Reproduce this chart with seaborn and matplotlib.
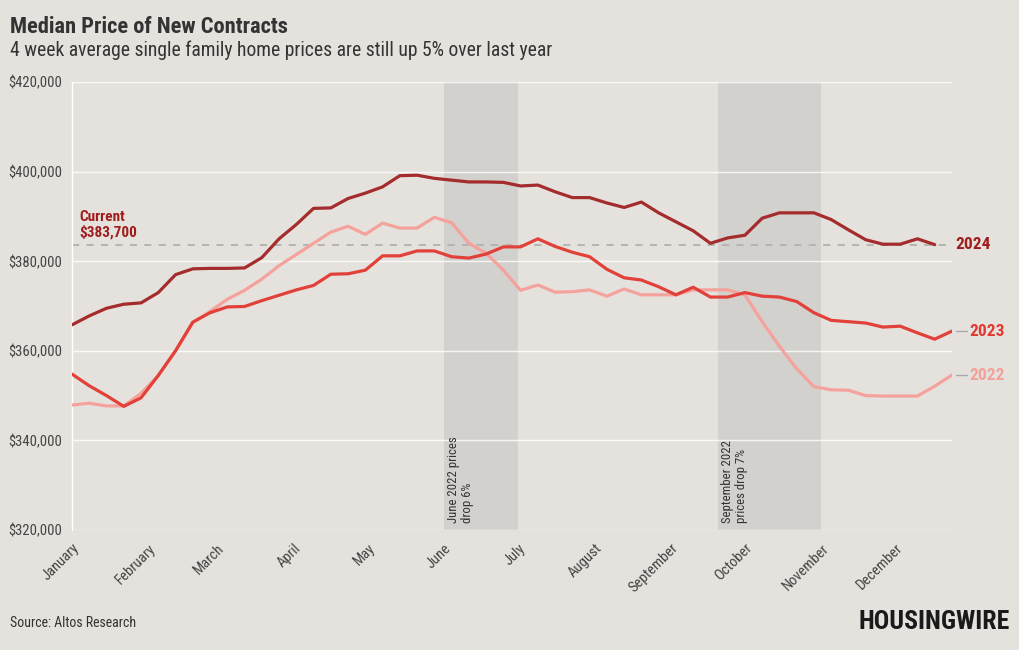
import numpy as np
import pandas as pd
import matplotlib
matplotlib.use("Agg")
import matplotlib.pyplot as plt
import matplotlib.ticker as mticker
import seaborn as sns

# ---- data (weekly, $ thousands) ----
weeks_2022_2023 = pd.date_range("2023-01-01", periods=52, freq="7D")
weeks_2024 = weeks_2022_2023[:51]

price_2024 = [365.8, 367.8, 369.5, 370.4, 370.7, 373.0, 377.0, 378.3, 378.4, 378.4,
              378.5, 380.8, 385.0, 388.2, 391.8, 391.9, 394.0, 395.2, 396.6, 399.1,
              399.2, 398.5, 398.1, 397.7, 397.7, 397.6, 396.8, 397.0, 395.5, 394.2,
              394.2, 393.0, 392.0, 393.2, 390.8, 388.8, 386.8, 384.0, 385.2, 385.8,
              389.6, 390.8, 390.8, 390.8, 389.3, 387.0, 384.8, 383.8, 383.8, 385.0,
              383.7]
price_2023 = [354.8, 352.2, 350.0, 347.6, 349.5, 354.5, 360.0, 366.4, 368.5, 369.8,
              369.9, 371.2, 372.4, 373.6, 374.6, 377.1, 377.2, 378.0, 381.2, 381.2,
              382.3, 382.3, 381.0, 380.7, 381.6, 383.2, 383.2, 385.0, 383.3, 382.0,
              381.0, 378.2, 376.3, 375.8, 374.3, 372.5, 374.2, 372.0, 372.0, 373.0,
              372.2, 372.0, 371.0, 368.5, 366.8, 366.5, 366.2, 365.3, 365.5, 364.0,
              362.6, 364.4]
price_2022 = [347.9, 348.3, 347.7, 347.7, 350.5, 354.5, 360.0, 366.3, 368.8, 371.5,
              373.5, 376.0, 379.0, 381.5, 384.0, 386.5, 387.8, 386.0, 388.5, 387.4,
              387.4, 389.8, 388.6, 384.0, 381.8, 378.0, 373.5, 374.7, 373.1, 373.2,
              373.6, 372.2, 373.8, 372.5, 372.5, 372.5, 373.6, 373.6, 373.6, 372.5,
              366.5, 361.0, 356.0, 352.0, 351.3, 351.2, 350.0, 349.9, 349.9, 349.9,
              352.1, 354.6]

current_value = 383700
y_ticks = [320000, 340000, 360000, 380000, 400000, 420000]
month_labels = ["January", "February", "March", "April", "May", "June", "July",
                "August", "September", "October", "November", "December"]
bands = [("2023-06-01", "2023-07-01", "June 2022 prices\ndrop 6%"),
         ("2023-09-20", "2023-11-01", "September 2022\nprices drop 7%")]

colors = {"2024": "#a52c2c", "2023": "#e2413a", "2022": "#f5a29c"}
label_colors = {"2024": "#a01d1d", "2023": "#e03a33", "2022": "#f4a09a"}

df = pd.concat([
    pd.DataFrame({"date": weeks_2024, "price": np.array(price_2024) * 1000, "year": "2024"}),
    pd.DataFrame({"date": weeks_2022_2023, "price": np.array(price_2023) * 1000, "year": "2023"}),
    pd.DataFrame({"date": weeks_2022_2023, "price": np.array(price_2022) * 1000, "year": "2022"}),
])

# ---- style ----
BG = "#e5e2de"
sns.set_theme(style="white")
plt.rcParams["font.family"] = ["Roboto Condensed", "DejaVu Sans"]

fig = plt.figure(figsize=(10.2, 6.5), dpi=100, facecolor=BG)
ax = fig.add_axes([0.0706, 0.1846, 0.8627, 0.6892])
ax.set_facecolor(BG)

for start, end, txt in bands:
    ax.axvspan(pd.Timestamp(start), pd.Timestamp(end), color="#d2d1ce", zorder=0, lw=0)
    ax.text(pd.Timestamp(start) + pd.Timedelta(days=1.2), 321500, txt, rotation=90,
            ha="left", va="bottom", fontsize=9.2, color="#333333", linespacing=1.1,
            zorder=1)

for yv in y_ticks:
    ax.axhline(yv, color="white", lw=1, alpha=0.8, zorder=0.5)

ax.axhline(current_value, color="#b3b1ad", lw=1.3, ls=(0, (4, 4)), zorder=1.5)

sns.lineplot(data=df, x="date", y="price", hue="year", palette=colors,
             hue_order=["2022", "2023", "2024"], linewidth=2.3, ax=ax, legend=False,
             zorder=3)

ax.set_xlim(weeks_2022_2023[0], weeks_2022_2023[-1])
ax.set_ylim(320000, 420000)
ax.set_yticks(y_ticks)
ax.yaxis.set_major_formatter(mticker.FuncFormatter(lambda v, p: f"${v:,.0f}"))
month_ticks = pd.date_range("2023-01-01", periods=12, freq="MS")
ax.set_xticks(month_ticks)
ax.set_xticklabels(month_labels, rotation=45, ha="right", rotation_mode="anchor")
ax.tick_params(axis="x", colors="white", labelcolor="#444444", labelsize=10.5,
               length=5, width=1, pad=3)
ax.tick_params(axis="y", labelcolor="#444444", labelsize=10.5, length=0, pad=7)
ax.set_xlabel("")
ax.set_ylabel("")
for s in ["top", "right", "bottom"]:
    ax.spines[s].set_visible(False)
ax.spines["left"].set_color("white")
ax.spines["left"].set_linewidth(1)

# current annotation
ax.text(weeks_2022_2023[0] + pd.Timedelta(days=3), current_value + 1100,
        "Current\n$383,700", color="#a01d1d", fontsize=11, fontweight="bold",
        ha="left", va="bottom", linespacing=1.15)

# end labels
ends = {"2024": price_2024[-1], "2023": price_2023[-1], "2022": price_2022[-1]}
for yr, v in ends.items():
    offset = 1.2
    if yr != "2024":
        ax.plot([weeks_2022_2023[-1] + pd.Timedelta(days=1.5),
                 weeks_2022_2023[-1] + pd.Timedelta(days=6)],
                [v * 1000, v * 1000], color="#aaaaaa", lw=1, clip_on=False)
        offset = 7
    ax.text(weeks_2022_2023[-1] + pd.Timedelta(days=offset), v * 1000, yr,
            color=label_colors[yr], fontsize=12.5, fontweight="bold",
            ha="left", va="center", clip_on=False)

fig.text(0.010, 0.958, "Median Price of New Contracts", fontsize=16.2, fontweight="bold",
         color="#333333", ha="left", va="center")
fig.text(0.010, 0.922, "4 week average single family home prices are still up 5% over last year",
         fontsize=14.1, color="#333333", ha="left", va="center")
fig.text(0.010, 0.041, "Source: Altos Research", fontsize=10, color="#333333",
         ha="left", va="center")
fig.text(0.990, 0.043, "HOUSINGWIRE", fontsize=18.5, fontweight="heavy", color="#1a1a1a",
         ha="right", va="center")

fig.savefig("out.png", dpi=100, facecolor=BG)
